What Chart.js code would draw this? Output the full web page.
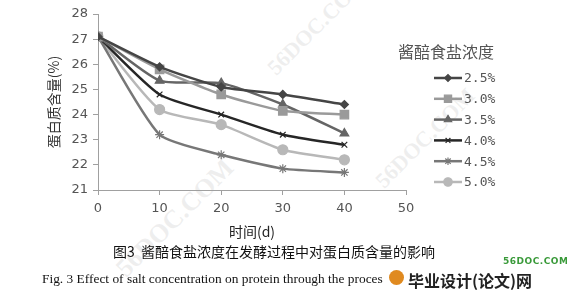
<!DOCTYPE html>
<html>
<head>
<meta charset="utf-8">
<script src="https://cdn.jsdelivr.net/npm/chart.js@4/dist/chart.umd.min.js"></script>
<style>
  body { margin: 0; background: #fff; }
  #wrap { position: relative; width: 567px; height: 298px; overflow: hidden; }
  #wrap canvas { position: absolute; left: 0; top: 0; }
  .cap { position: absolute; white-space: nowrap; }
  .wm { position: absolute; white-space: nowrap; font: bold 22px 'Liberation Serif'; color: rgba(190,190,190,0.25); transform: rotate(-45deg); transform-origin: left top; }
</style>
</head>
<body>
<div id="wrap">
  <div class="wm" style="left:262px; top:62px;">56DOC.COM</div>
  <div class="wm" style="left:110px; top:262px; font-size:26px;">56DOC.COM</div>
  <div class="wm" style="left:370px; top:175px;">56DOC.COM</div>
  <canvas id="chart_canvas" width="567" height="298"></canvas>
  <div class="cap" id="cap_cn" style="left:113px; top:241px; font: 14px 'Noto Sans CJK SC'; color:#111;">图3&nbsp;&nbsp;酱醅食盐浓度在发酵过程中对蛋白质含量的影响</div>
  <div class="cap" id="cap_en" style="left:42px; top:271px; font: 13.4px 'Liberation Serif'; color:#111;">Fig. 3 Effect of salt concentration on protein through the proces</div>
  <div class="cap" style="left:503px; top:256px; font: bold 9px 'DejaVu Sans'; color:#3a9a3a; letter-spacing:0.5px;">56DOC.COM</div>
  <div class="cap" style="left:389px; top:270px; width:15px; height:15px; border-radius:8px; background:#e08a20;"></div>
  <div class="cap" style="left:408px; top:268px; font: bold 16px 'Noto Sans CJK SC'; color:#222;">毕业设计(论文)网</div>
</div>
<script>
// 时间(d)
const days = [0, 10, 20, 30, 40];
const seriesNames = ['2.5%', '3.0%', '3.5%', '4.0%', '4.5%', '5.0%'];
// 蛋白质含量(%)
const s25 = [27.1, 25.9, 25.1, 24.8, 24.4];
const s30 = [27.1, 25.8, 24.8, 24.15, 24.0];
const s35 = [27.1, 25.35, 25.25, 24.4, 23.25];
const s40 = [27.1, 24.8, 24.0, 23.2, 22.8];
const s45 = [27.1, 23.2, 22.4, 21.85, 21.7];
const s50 = [27.1, 24.2, 23.6, 22.6, 22.2];
const yTicks = [21, 22, 23, 24, 25, 26, 27, 28];
const xTicks = [0, 10, 20, 30, 40, 50];

const allValues = [s25, s30, s35, s40, s45, s50];
const colors = ['#454545', '#9a9a9a', '#656565', '#262626', '#777777', '#b8b8b8'];
const markers = ['rectRot', 'rect', 'triangle', 'crossRot', 'star', 'circle'];
const markerSizes = [4, 6, 5, 4, 4.5, 5];

function toPoints(vals) {
    return vals.map((v, i) => ({ x: days[i], y: v }));
}

const datasets = allValues.map((vals, i) => ({
    label: seriesNames[i],
    data: toPoints(vals),
    borderColor: colors[i],
    backgroundColor: colors[i],
    borderWidth: 2.5,
    tension: 0.2,
    pointStyle: markers[i],
    pointRadius: markerSizes[i],
    pointBorderWidth: 1.2,
    pointBorderColor: colors[i],
    pointBackgroundColor: colors[i],
}));

// Excel 风格的图例（线段 + 标记）
const sideLegend = {
    id: 'sideLegend',
    afterDraw(chart) {
        const ctx = chart.ctx;
        ctx.save();
        ctx.fillStyle = '#555';
        ctx.font = "16px 'Noto Sans CJK SC'";
        ctx.textAlign = 'left';
        ctx.textBaseline = 'middle';
        ctx.fillText('酱醅食盐浓度', 398, 52);
        ctx.font = "13px 'DejaVu Sans Mono'";
        chart.data.datasets.forEach((ds, i) => {
            const y = 78 + i * 20.8;
            ctx.strokeStyle = ds.borderColor;
            ctx.lineWidth = 2.5;
            ctx.beginPath();
            ctx.moveTo(434, y);
            ctx.lineTo(462, y);
            ctx.stroke();
            ctx.fillStyle = ds.borderColor;
            ctx.lineWidth = 1.2;
            Chart.helpers.drawPoint(ctx, {
                pointStyle: ds.pointStyle,
                radius: ds.pointRadius * 0.85,
                borderWidth: ds.pointBorderWidth,
                rotation: 0
            }, 448, y);
            ctx.fillStyle = '#555';
            ctx.fillText(ds.label, 464, y + 1);
        });
        ctx.restore();
    }
};

new Chart(document.getElementById('chart_canvas'), {
    type: 'line',
    data: { datasets: datasets },
    options: {
        responsive: false,
        animation: false,
        layout: { padding: { left: 40, right: 161, top: 14, bottom: 47 } },
        scales: {
            x: {
                type: 'linear',
                min: 0,
                max: 50,
                afterBuildTicks: s => { s.ticks = xTicks.map(v => ({ value: v })); },
                afterFit: s => { s.height = 61; },
                grid: { display: true, drawOnChartArea: false, drawTicks: true, tickLength: 5, color: '#a0a0a0' },
                border: { color: '#a0a0a0', width: 1 },
                ticks: { color: '#555', font: { family: 'DejaVu Sans', size: 13 }, padding: 6 },
                title: { display: true, text: '时间(d)', color: '#222', font: { family: 'Noto Sans CJK SC', size: 14 }, padding: { top: 2, bottom: 11 } }
            },
            y: {
                min: 21,
                max: 28,
                afterBuildTicks: s => { s.ticks = yTicks.map(v => ({ value: v })); },
                afterFit: s => { s.width = 58; },
                grid: { display: true, drawOnChartArea: false, drawTicks: true, tickLength: 5, color: '#a0a0a0' },
                border: { color: '#a0a0a0', width: 1 },
                ticks: { color: '#555', font: { family: 'DejaVu Sans', size: 13 }, padding: 5 },
                title: { display: true, text: '蛋白质含量(%)', color: '#333', font: { family: 'Noto Sans CJK SC', size: 14 }, padding: 5 }
            }
        },
        plugins: {
            legend: { display: false },
            tooltip: { enabled: false }
        }
    },
    plugins: [sideLegend]
});
</script>
</body>
</html>
